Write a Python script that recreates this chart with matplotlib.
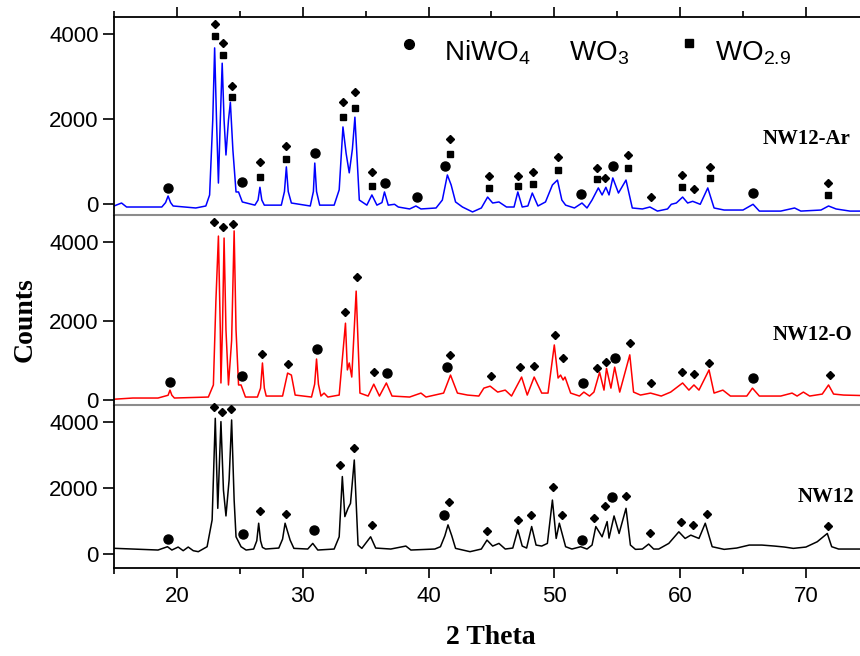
import matplotlib.pyplot as plt
from matplotlib.ticker import MultipleLocator

plt.rcParams['font.family'] = ['Liberation Sans', 'DejaVu Sans']

# ---- NW12-Ar (blue, top panel) ----
ar_x = [15.0, 15.6, 16.0, 17.5, 18.8, 19.1, 19.3, 19.5, 19.7, 21.5, 22.3, 22.6, 22.85, 23.0, 23.15,
        23.3, 23.45, 23.6, 23.75, 23.9, 24.1, 24.25, 24.45, 24.7, 24.9, 25.2, 26.2, 26.45, 26.6,
        26.75, 26.95, 28.3, 28.55, 28.7, 28.85, 29.1, 30.6, 30.85, 30.96, 31.1, 31.35, 32.5, 32.9,
        33.2, 33.45, 33.7, 33.95, 34.15, 34.5, 35.1, 35.5, 35.9, 36.3, 36.5, 36.8, 37.3, 37.6, 38.5,
        39.0, 39.4, 40.6, 41.1, 41.5, 41.8, 42.15, 42.7, 43.5, 44.2, 44.7, 45.1, 45.6, 46.2, 46.8,
        47.1, 47.45, 47.9, 48.25, 48.7, 49.3, 49.85, 50.25, 50.6, 50.9, 51.6, 52.2, 52.6, 53.0,
        53.5, 53.8, 54.1, 54.35, 54.65, 55.1, 55.7, 56.2, 57.0, 57.6, 58.2, 59.0, 59.3, 59.7, 60.2,
        60.6, 61.0, 61.6, 62.2, 62.7, 63.5, 65.0, 65.8, 66.3, 68.0, 69.1, 69.6, 71.2, 71.8, 72.4,
        73.5, 76.0]
ar_y = [-40, 30, -64, -64, -64, 40, 195, 40, -40, -87, -40, 219, 1980, 3680, 1980,
        500, 1980, 3320, 1980, 1160, 1980, 2400, 1280, 290, 290, 55, -20, 100, 400,
        100, -20, -20, 300, 880, 300, 30, -40, 300, 970, 300, -20, -20, 340,
        1820, 1200, 740, 1300, 2050, 100, -20, 220, -20, 40, 290, -20, 0, -64, -110,
        -40, -110, -87, 100, 690, 455, 55, -64, -180, -87, 170, 30, 55, -64, -64,
        290, -64, -40, 265, -40, 55, 455, 570, 100, -20, -87, 30, -87, 100,
        385, 220, 400, 220, 620, 265, 570, -87, -110, -64, -160, -110, 0, 30, 170,
        30, 70, 0, 385, -87, -135, -135, 0, -160, -160, -87, -160, -135, -40, -110,
        -160, -160]

# ---- NW12-O (red, middle panel) ----
o_x = [15.0, 16.5, 18.5, 19.3, 19.45, 19.6, 19.8, 22.5, 22.9, 23.1, 23.3, 23.45, 23.5, 23.62, 23.75,
       23.9, 24.1, 24.35, 24.55, 24.7, 24.9, 25.1, 25.45, 26.4, 26.65, 26.8, 26.95, 27.1, 28.4,
       28.8, 29.1, 29.4, 30.7, 30.95, 31.1, 31.25, 31.45, 31.7, 32.0, 32.9, 33.4, 33.55, 33.7,
       33.9, 34.25, 34.55, 35.2, 35.65, 36.1, 36.65, 37.1, 38.5, 39.4, 39.8, 41.2, 41.75, 42.3,
       43.1, 44.0, 44.4, 44.9, 45.5, 46.1, 46.6, 47.4, 47.85, 48.4, 49.0, 49.5, 50.0, 50.3, 50.5,
       50.7, 50.85, 51.3, 52.0, 52.35, 52.8, 53.15, 53.6, 53.95, 54.15, 54.5, 54.8, 55.2, 56.0,
       56.3, 56.85, 57.65, 58.5, 59.25, 60.2, 60.7, 61.1, 61.5, 62.3, 62.7, 63.4, 64.0, 65.3,
       65.75, 66.3, 68.0, 68.9, 69.3, 69.8, 70.3, 71.3, 71.8, 72.2, 73.0, 76.0]
o_y = [20, 50, 50, 120, 250, 120, 50, 75, 380, 2500, 4140, 1770, 430, 1770, 4090,
       1770, 380, 1500, 4270, 1770, 380, 380, 75, 75, 300, 935, 300, 100, 100,
       680, 630, 125, 75, 400, 1035, 400, 100, 175, 75, 125, 1940, 760, 935,
       580, 2750, 175, 100, 400, 100, 430, 100, 75, 175, 75, 175, 630, 175,
       125, 100, 300, 350, 200, 250, 100, 580, 125, 580, 175, 175, 1390, 555, 630,
       505, 580, 175, 100, 200, 100, 200, 700, 250, 800, 300, 830, 200, 1140,
       200, 125, 175, 100, 200, 430, 250, 380, 250, 760, 175, 250, 100, 100,
       300, 100, 100, 175, 100, 200, 100, 150, 380, 150, 125, 100]

# ---- NW12 (black, bottom panel) ----
b_x = [15.0, 16.5, 18.5, 19.25, 19.6, 20.1, 20.5, 20.9, 21.3, 21.7, 22.4, 22.8, 23.05, 23.25, 23.5,
       23.7, 23.9, 24.15, 24.35, 24.55, 24.7, 25.1, 25.5, 26.1, 26.35, 26.5, 26.65, 26.8, 27.05,
       28.1, 28.4, 28.6, 29.0, 29.3, 30.4, 30.8, 31.2, 32.5, 32.9, 33.15, 33.35, 33.6, 33.8, 34.1,
       34.4, 34.7, 35.4, 35.8, 37.0, 38.2, 38.6, 40.5, 40.95, 41.3, 41.55, 41.85, 42.15, 43.3, 44.2,
       44.65, 45.1, 45.6, 46.1, 46.7, 47.1, 47.45, 47.8, 48.2, 48.55, 49.0, 49.45, 49.85, 50.15,
       50.4, 50.9, 51.4, 52.1, 52.6, 53.0, 53.3, 53.8, 54.2, 54.35, 54.75, 55.15, 55.7, 56.05,
       56.45, 57.0, 57.5, 57.9, 58.3, 59.1, 59.9, 60.4, 60.85, 61.5, 62.0, 62.55, 63.5, 64.5,
       65.5, 66.5, 67.5, 68.3, 69.0, 70.0, 70.9, 71.7, 72.05, 72.6, 76.0]
b_y = [172, 150, 120, 220, 120, 210, 100, 210, 100, 70, 220, 1030, 4100, 1380, 4000,
       1930, 1150, 2240, 4050, 1630, 520, 220, 120, 150, 400, 930, 400, 200, 150,
       180, 450, 930, 420, 170, 150, 320, 120, 150, 520, 2340, 1130, 1380, 1530, 2840,
       270, 170, 520, 180, 150, 240, 120, 150, 220, 550, 880, 550, 170, 70, 150,
       420, 240, 320, 150, 180, 730, 240, 180, 830, 270, 240, 320, 1630, 470,
       930, 220, 150, 220, 150, 270, 830, 520, 980, 480, 1150, 620, 1380, 270,
       140, 150, 300, 150, 150, 320, 670, 470, 570, 470, 930, 220, 140, 180,
       270, 270, 240, 210, 170, 210, 370, 620, 220, 150, 150]

# ---- phase markers (2theta, counts) ----
ar_circ_x = [19.3, 25.2, 30.96, 36.58, 39.05, 41.3, 52.14, 54.68, 65.81]
ar_circ_y = [384, 518, 1200, 508, 179, 901, 242, 908, 273]
ar_diam_x = [23.0, 23.65, 24.35, 26.6, 28.7, 33.2, 34.14, 35.53, 41.7, 44.8, 47.13, 48.27, 50.26,
             53.4, 54.0, 55.87, 57.66, 60.17, 61.12, 62.37, 71.72]
ar_diam_y = [4242, 3788, 2790, 988, 1379, 2400, 2635, 753, 1536, 673, 673, 767, 1120,
             847, 612, 1160, 179, 689, 353, 885, 494]
ar_sq_x = [23.0, 23.65, 24.35, 26.6, 28.7, 33.2, 34.14, 35.53, 41.7, 44.8, 47.13, 48.27, 50.26,
           53.4, 55.87, 60.17, 62.37, 71.72]
ar_sq_y = [3960, 3513, 2532, 649, 1059, 2061, 2259, 438, 1184, 376, 438, 478, 807,
           588, 847, 400, 612, 219]

o_circ_x = [19.45, 25.2, 31.17, 36.74, 41.48, 52.29, 54.84, 65.81]
o_circ_y = [462, 606, 1280, 690, 842, 421, 1052, 547]
o_diam_x = [22.97, 23.63, 24.42, 26.8, 28.8, 33.35, 34.28, 35.66, 41.7, 44.93, 47.26, 48.37,
            50.04, 50.7, 53.4, 54.08, 56.0, 57.7, 60.17, 61.12, 62.31, 71.91]
o_diam_y = [4503, 4376, 4437, 1154, 909, 2230, 3098, 699, 1136, 614, 842, 867,
            1641, 1069, 800, 968, 1431, 421, 716, 648, 926, 631]

b_circ_x = [19.31, 25.26, 30.89, 41.2, 52.17, 54.6]
b_circ_y = [444, 604, 725, 1178, 423, 1731]
b_diam_x = [22.96, 23.57, 24.34, 26.59, 28.64, 33.0, 34.09, 35.48, 41.6, 44.66, 47.13, 48.14,
            49.86, 50.58, 53.15, 54.02, 55.71, 57.59, 60.04, 60.99, 62.11, 71.77]
b_diam_y = [4451, 4299, 4381, 1308, 1208, 2689, 3193, 876, 1580, 704, 1027, 1178,
            2033, 1178, 1078, 1450, 1752, 644, 958, 876, 1199, 855]

W, H = 860, 656
fig = plt.figure(figsize=(W / 100, H / 100), dpi=100)

# the original picture is cut on the right, so the axes simply end at the edge
left = 114 / W
width = (860 - 114) / W
x_max = 15 + (860 - 114) / 12.58
ax_top = fig.add_axes([left, 1 - 215 / H, width, 198 / H])
ax_mid = fig.add_axes([left, 1 - 405 / H, width, 190 / H])
ax_bot = fig.add_axes([left, 1 - 568 / H, width, 163 / H])

sep = '#8c8c8c'
for ax, lim in [(ax_top, (-252, 4407)), (ax_mid, (-126, 4672)), (ax_bot, (-423, 4502))]:
    ax.set_xlim(15, x_max)
    ax.set_ylim(*lim)
    ax.set_yticks([0, 2000, 4000])
    ax.xaxis.set_major_locator(MultipleLocator(10))
    ax.xaxis.set_minor_locator(MultipleLocator(5))
    ax.tick_params(axis='y', direction='out', length=8, width=1.2, labelsize=16, pad=3)
    ax.tick_params(axis='x', which='major', direction='out', length=7, width=1.2,
                   labelsize=16, pad=6)
    ax.tick_params(axis='x', which='minor', direction='out', length=4, width=1.2)
    ax.spines['left'].set_linewidth(1.3)
    ax.spines['right'].set_visible(False)
    ax.patch.set_alpha(0)

ax_top.tick_params(axis='x', which='both', top=True, bottom=False, labelbottom=False)
ax_top.spines['top'].set_linewidth(1.3)
ax_top.spines['bottom'].set_color(sep)
ax_top.spines['bottom'].set_linewidth(1.5)

ax_mid.tick_params(axis='x', which='both', top=False, bottom=False, labelbottom=False)
ax_mid.spines['top'].set_visible(False)
ax_mid.spines['bottom'].set_color(sep)
ax_mid.spines['bottom'].set_linewidth(1.5)

ax_bot.spines['top'].set_visible(False)
ax_bot.spines['bottom'].set_linewidth(1.3)

ax_top.plot(ar_x, ar_y, color='#0000ff', lw=1.1)
ax_mid.plot(o_x, o_y, color='#ff0000', lw=1.1)
ax_bot.plot(b_x, b_y, color='black', lw=1.1)

mk = dict(color='black', ls='none', clip_on=False)
ax_top.plot(ar_circ_x, ar_circ_y, 'o', ms=6.5, **mk)
ax_top.plot(ar_diam_x, ar_diam_y, 'D', ms=4, **mk)
ax_top.plot(ar_sq_x, ar_sq_y, 's', ms=5, **mk)
ax_mid.plot(o_circ_x, o_circ_y, 'o', ms=6.5, **mk)
ax_mid.plot(o_diam_x, o_diam_y, 'D', ms=4, **mk)
ax_bot.plot(b_circ_x, b_circ_y, 'o', ms=6.5, **mk)
ax_bot.plot(b_diam_x, b_diam_y, 'D', ms=4, **mk)

# phase legend
fig.add_artist(plt.Line2D([409 / W], [1 - 44 / H], marker='o', ms=7, color='black', ls='none'))
fig.add_artist(plt.Line2D([689 / W], [1 - 43 / H], marker='s', ms=6, color='black', ls='none'))
fig.text(444 / W, 1 - 60 / H, 'NiWO$_\\mathregular{4}$', fontsize=20, va='baseline')
fig.text(569 / W, 1 - 60 / H, 'WO$_\\mathregular{3}$', fontsize=20, va='baseline')
fig.text(715 / W, 1 - 60 / H, 'WO$_\\mathregular{2.9}$', fontsize=20, va='baseline')

serif = ['Liberation Serif', 'DejaVu Serif']
fig.text(763 / W, 1 - 139 / H, 'NW12-Ar', family=serif, fontweight='bold', fontsize=15, va='center')
fig.text(773 / W, 1 - 335 / H, 'NW12-O', family=serif, fontweight='bold', fontsize=15, va='center')
fig.text(798 / W, 1 - 497 / H, 'NW12', family=serif, fontweight='bold', fontsize=15, va='center')

fig.text(25 / W, 1 - 320 / H, 'Counts', family=serif, fontweight='bold', fontsize=20,
         rotation=90, ha='center', va='center')
fig.text(491 / W, 1 - 638 / H, '2 Theta', family=serif, fontweight='bold', fontsize=20,
         ha='center', va='center')

fig.savefig('out.png', dpi=100)
